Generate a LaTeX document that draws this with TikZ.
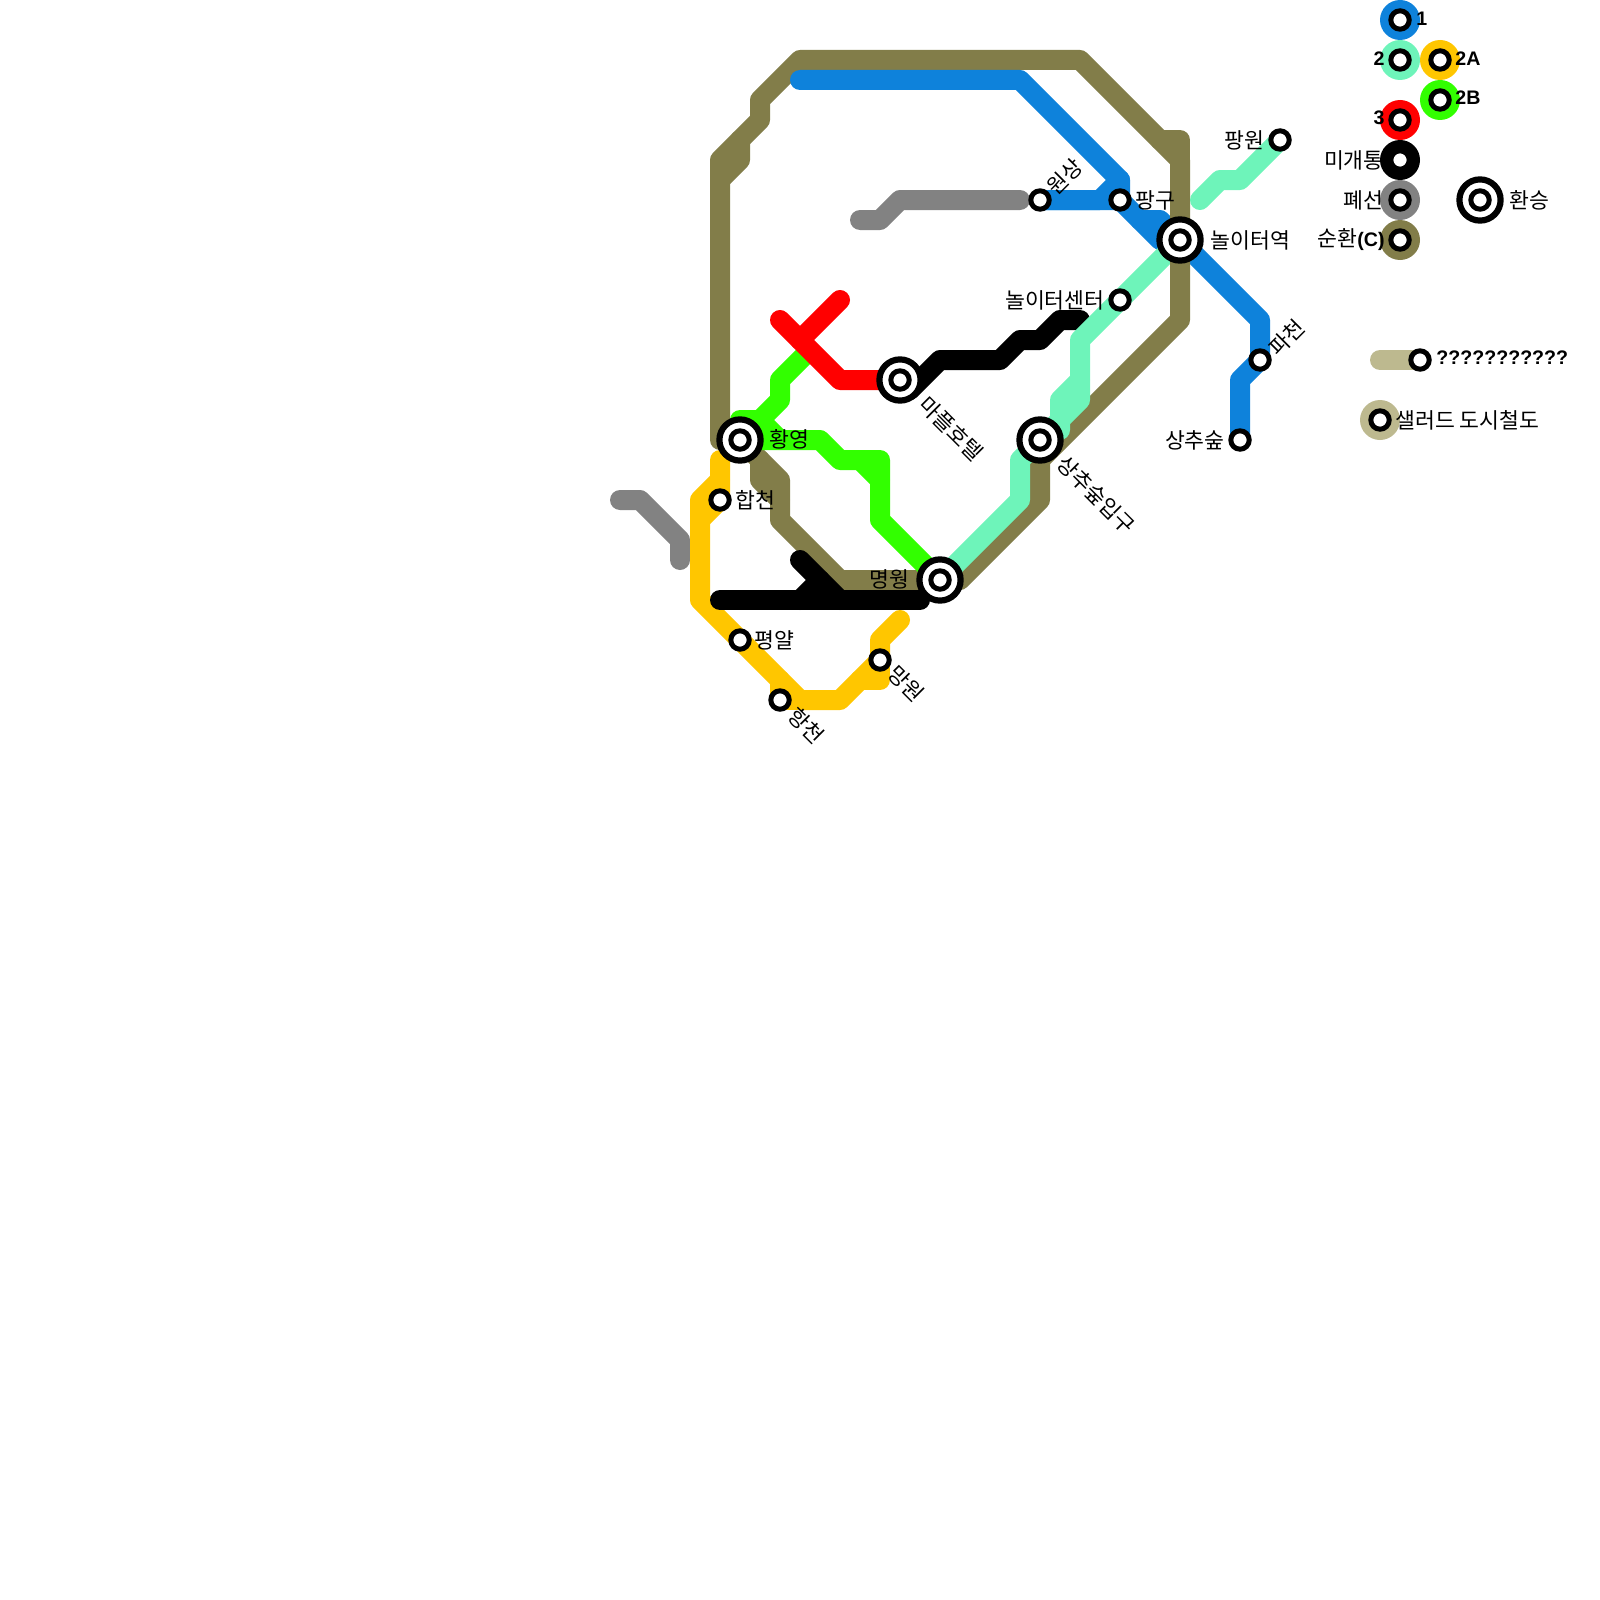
\documentclass[tikz,border=0pt]{standalone}
\usepackage{fontspec}
\setmainfont{Liberation Sans}
\newfontfamily\kr{Noto Sans CJK KR}
\definecolor{lblue}{RGB}{14,130,219}
\definecolor{lteal}{RGB}{110,244,186}
\definecolor{lolive}{RGB}{130,125,73}
\definecolor{lgreen}{RGB}{50,255,0}
\definecolor{lyellow}{RGB}{255,198,0}
\definecolor{lred}{RGB}{255,0,0}
\definecolor{lgray}{RGB}{130,130,130}
\definecolor{ltan}{RGB}{189,185,143}
\tikzset{
  mline/.style={line width=10pt,line cap=round,line join=round},
  stn/.style={circle,draw=black,fill=white,line width=2.5pt,minimum size=9.2pt,inner sep=0pt},
  xch/.style={circle,draw=black,fill=white,line width=3.1pt,minimum size=20.6pt,inner sep=0pt},
  lab/.style={font=\kr\fontsize{10.8}{11}\selectfont,inner sep=0pt,text=black},
  blab/.style={font=\bfseries\fontsize{9.8}{10}\selectfont,inner sep=0pt,text=black},
  disc/.style={circle,minimum size=20pt,inner sep=0pt}
}
\begin{document}
\begin{tikzpicture}[x=0.5pt,y=-0.5pt]
\useasboundingbox (0,0) rectangle (1600,1600);
% station positions
\coordinate (Hy) at (740,440);
\coordinate (My) at (940,580);
\coordinate (Mp) at (900,380);
\coordinate (Si) at (1040,440);
\coordinate (Nl) at (1180,240);
\coordinate (Hc) at (720,500);
\coordinate (Py) at (740,640);
\coordinate (Hn) at (780,700);
\coordinate (Mw) at (880,660);
\coordinate (Ws) at (1040,200);
\coordinate (Pg) at (1120,200);
\coordinate (Nc) at (1120,300);
\coordinate (Pw) at (1280,140);
\coordinate (Pc) at (1260,360);
\coordinate (Sc) at (1240,440);
% grey
\draw[mline,lgray] (620,500) -- (640,500) -- (680,540) -- (680,560);
\draw[mline,lgray] (860,220) -- (880,220) -- (900,200) -- (1020,200);
% blue around the exchange
\draw[mline,lblue] (Ws) -- (1100,200) -- (1120,180);
\draw[mline,lblue] (Ws) -- (Pg) -- (1160,240) -- (Nl) -- (1260,320) -- (Pc) -- (1240,380) -- (Sc);
\draw[mline,lblue] (1140,220) -- (1160,220) -- (Nl);
% teal under the olive
\draw[mline,lteal] (Nl) -- (Nc);
% olive
\draw[mline,lolive] (Hy) -- (720,440) -- (720,160) -- (760,120) -- (760,100) -- (800,60) -- (1080,60) -- (1180,160) -- (1180,320) -- (1040,460);
\draw[mline,lolive] (720,180) -- (740,160) -- (740,140);
\draw[mline,lolive] (1160,140) -- (1180,140) -- (1180,160);
\draw[mline,lolive] (Si) -- (1040,500) -- (960,580) -- (840,580) -- (780,520) -- (780,480) -- (Hy);
\draw[mline,lolive] (760,460) -- (760,480) -- (780,500);
% blue top over the olive
\draw[mline,lblue] (800,80) -- (1020,80) -- (1120,180) -- (Pg);
% black upper
\draw[mline,black] (910,390) -- (940,360) -- (1000,360) -- (1020,340) -- (1040,340) -- (1060,320) -- (1080,320);
% teal
\draw[mline,lteal] (Pw) -- (1240,180) -- (1220,180) -- (1200,200);
\draw[mline,lteal] (Nc) -- (1080,340) -- (1080,400) -- (Si) -- (1020,460) -- (1020,500) -- (My);
\draw[mline,lteal] (1080,380) -- (1060,400) -- (1060,430);
% green
\draw[mline,lgreen] (740,420) -- (760,420) -- (780,400) -- (780,380) -- (805,355);
\draw[mline,lgreen] (760,420) -- (780,440);
\draw[mline,lgreen] (Hy) -- (820,440) -- (840,460) -- (880,460) -- (880,520) -- (My);
\draw[mline,lgreen] (860,460) -- (880,480);
% yellow
\draw[mline,lyellow] (720,460) -- (Hc) -- (700,520);
\draw[mline,lyellow] (720,480) -- (700,500) -- (700,600) -- (800,700) -- (840,700) -- (Mw) -- (880,640) -- (900,620);
\draw[mline,lyellow] (860,680) -- (880,680) -- (Mw);
\draw[mline,lyellow] (780,680) -- (Hn) -- (800,700);
% black lower
\draw[mline,black] (720,600) -- (920,600);
\draw[mline,black] (800,560) -- (840,600);
\draw[mline,black] (800,600) -- (820,580);
% red
\draw[mline,lred] (780,320) -- (840,380) -- (Mp);
\draw[mline,lred] (800,340) -- (840,300);
% interchange stations
\foreach \c/\n in {Hy/a,My/b,Mp/c,Si/d,Nl/e}{
  \node[xch] (x\n) at (\c) {};
  \node[stn] (i\n) at (\c) {};
}
% plain stations
\foreach \c in {Hc,Py,Hn,Mw,Ws,Pg,Nc,Pw,Pc,Sc}{
  \node[stn] (n\c) at (\c) {};
}
% legend
\draw[mline,ltan] (1380,360) -- (1420,360);
\node[disc,fill=lblue]   (d1)  at (1400,20) {};
\node[disc,fill=lteal]   (d2)  at (1400,60) {};
\node[disc,fill=lyellow] (d2a) at (1440,60) {};
\node[disc,fill=lgreen]  (d2b) at (1440,100) {};
\node[disc,fill=lred]    (d3)  at (1400,120) {};
\node[disc,fill=black]   (d4)  at (1400,160) {};
\node[disc,fill=lgray]   (d5)  at (1400,200) {};
\node[disc,fill=lolive]  (d6)  at (1400,240) {};
\node[disc,fill=ltan]    (d7)  at (1380,420) {};
\node[stn] (s1) at (d1) {};
\node[stn] (s2) at (d2) {};
\node[stn] (s3) at (d2a) {};
\node[stn] (s4) at (d2b) {};
\node[stn] (s5) at (d3) {};
\node[stn] (s6) at (d4) {};
\node[stn] (s7) at (d5) {};
\node[stn] (s8) at (d6) {};
\node[stn] (s9) at (1420,360) {};
\node[stn] (s10) at (d7) {};
\node[xch] (xl) at (1480,200) {};
\node[stn] (sl) at (1480,200) {};
% labels
\node[lab,anchor=west] (t1) at (769,439) {황영};
\node[lab,anchor=west] (t2) at (735,500) {합천};
\node[lab,anchor=west] (t3) at (754,640) {평얄};
\node[lab,anchor=east] (t4) at (910,579) {명웡};
\node[lab,rotate=-45] (t5) at (951,429) {마플호텔};
\node[lab,rotate=-45] (t6) at (1096,495) {상추숲입구};
\node[lab,rotate=-45] (t7) at (806,726) {항천};
\node[lab,rotate=-45] (t8) at (906,684) {망원};
\node[lab,rotate=45] (t9) at (1065,177) {원상};
\node[lab,rotate=45] (t10) at (1287,338) {파천};
\node[lab,anchor=west] (t11) at (1135,200) {팡구};
\node[lab,anchor=west] (t12) at (1210,240) {놀이터역};
\node[lab,anchor=east] (t13) at (1105,300) {놀이터센터};
\node[lab,anchor=east] (t14) at (1265,140) {팡원};
\node[lab,anchor=east] (t15) at (1225,440) {상추숲};
\node[blab,anchor=west] (l1) at (1416,19) {1};
\node[blab,anchor=east] (l2) at (1385,59) {2};
\node[blab,anchor=west] (l2a) at (1455,59) {2A};
\node[blab,anchor=west] (l2b) at (1455,98) {2B};
\node[blab,anchor=east] (l3) at (1385,118) {3};
\node[lab,anchor=east] (l4) at (1384,160) {미개통};
\node[lab,anchor=east] (l5) at (1384,200) {폐선};
\node[anchor=east,inner sep=0pt] (l6) at (1385,240) {{\kr\fontsize{10.8}{11}\selectfont 순환}{\bfseries\fontsize{9.8}{10}\selectfont(C)}};
\node[lab,anchor=west] (l7) at (1509,200) {환승};
\node[blab,anchor=west] (l8) at (1436,358) {???????????};
\node[lab,anchor=west] (l9) at (1395,420) {샐러드 도시철도};
\end{tikzpicture}
\end{document}
